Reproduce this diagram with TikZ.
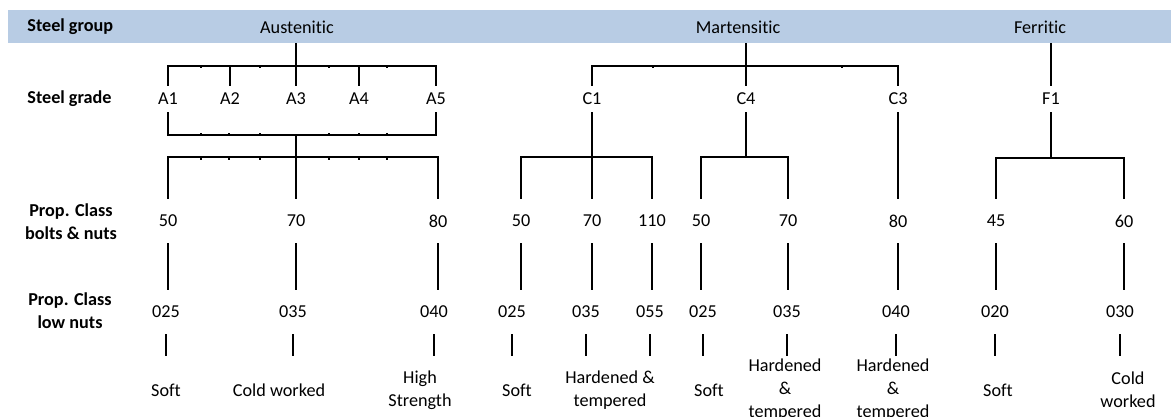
\documentclass[tikz,border=0pt]{standalone}
\usepackage{fontspec}
\setmainfont[RawFeature={-liga;-clig;-calt;-dlig}]{Carlito}
\usetikzlibrary{positioning}
\definecolor{barblue}{RGB}{184,204,228}

\begin{document}
\begin{tikzpicture}[x=0.5pt,y=-0.5pt,
	every node/.style={font=\fontsize{9.1}{11.5}\selectfont,inner sep=0pt,align=center},
	rowname/.style={font=\fontsize{9.1}{11.5}\selectfont\bfseries},
	head/.style={minimum height=16pt},
	grade/.style={minimum height=13pt},
	cls/.style={minimum height=22pt},
	kind/.style={minimum height=34pt},
	conn/.style={line width=0.7pt}]

	\useasboundingbox[fill=white] (0,0) rectangle (1171,417);
	\fill[barblue] (8,10) rectangle (1171,43);

	% row names
	\node[rowname,anchor=west] (rGroup) at (27,27) {Steel group};
	\node[rowname,anchor=west] (rGrade) at (27,99) {Steel grade};
	\node[rowname] (rBolts) at (71,222) {Prop. Class\\bolts \& nuts};
	\node[rowname] (rLow) at (70,311) {Prop. Class\\low nuts};

	% steel groups
	\node[head] (aus) at (297,27) {Austenit\kern0pt ic};
	\node[head] (mar) at (738,27) {Martensit\kern0pt ic};
	\node[head] (fer) at (1040,27) {Ferrit\kern0pt ic};

	% steel grades
	\node[grade] (A1) at (168,99) {A1};
	\node[grade] (A2) at (230,99) {A2};
	\node[grade] (A3) at (296,99) {A3};
	\node[grade] (A4) at (359,99) {A4};
	\node[grade] (A5) at (436,99) {A5};
	\node[grade] (C1) at (592,99) {C1};
	\node[grade] (C4) at (746,99) {C4};
	\node[grade] (C3) at (898,99) {C3};
	\node[grade] (F1) at (1051,99) {F1};

	% bolts & nuts
	\node[cls] (a50) at (168,221) {50};
	\node[cls] (a70) at (296,221) {70};
	\node[cls] (a80) at (438,221) {80};
	\node[cls] (m50) at (521,221) {50};
	\node[cls] (m70) at (592,221) {70};
	\node[cls] (m110) at (652,221) {110};
	\node[cls] (m50b) at (701,221) {50};
	\node[cls] (m70b) at (788,221) {70};
	\node[cls] (m80) at (898,221) {80};
	\node[cls] (f45) at (996,221) {45};
	\node[cls] (f60) at (1124,221) {60};

	% low nuts
	\node[cls] (a025) at (166,312) {025};
	\node[cls] (a035) at (293,312) {035};
	\node[cls] (a040) at (434,312) {040};
	\node[cls] (m025) at (512,312) {025};
	\node[cls] (m035) at (586,312) {035};
	\node[cls] (m055) at (650,312) {055};
	\node[cls] (m025b) at (703,312) {025};
	\node[cls] (m035b) at (787,312) {035};
	\node[cls] (m040) at (896,312) {040};
	\node[cls] (f020) at (995,312) {020};
	\node[cls] (f030) at (1120,312) {030};

	% condition
	\node[kind] (aSoft) at (166,390) {Soft};
	\node[kind] (aCold) at (279,390) {Cold worked};
	\node[kind] (aHigh) at (420,390) {High\\Strength};
	\node[kind] (mSoft) at (517,390) {Soft};
	\node[kind] (mHard) at (610,390) {Hardened \&\\tempered};
	\node[kind] (mSoftb) at (709,390) {Soft};
	\node[kind] (mHardb) at (785,390) {Hardened\\\&\\tempered};
	\node[kind] (mHardc) at (893,390) {Hardened\\\&\\tempered};
	\node[kind] (fSoft) at (998,390) {Soft};
	\node[kind] (fCold) at (1128,390) {Cold\\worked};

	\coordinate (aTop) at (296,66);
	\coordinate (aMid) at (296,135);
	\coordinate (aLow) at (296,157);
	\coordinate (mTop) at (746,66);
	\coordinate (c1Low) at (592,157);
	\coordinate (c4Low) at (746,157);
	\coordinate (fLow) at (1051,158);

	% austenitic
	\draw[conn] (A3 |- aus.south) -- (A3.north);
	\draw[conn] (A1.north) |- (aTop) -| (A5.north);
	\draw[conn] (A2.north) -- (A2 |- aTop);
	\draw[conn] (A4.north) -- (A4 |- aTop);
	\draw[conn] (A1.south) |- (aMid) -| (A5.south);
	\draw[conn] (aMid) -- (aLow);
	\draw[conn] (a50.north) |- (aLow) -| (a80.north);
	\draw[conn] (aLow) -- (a70.north);
	\foreach \x in {201,260,329,387}
		\draw[conn] (\x,66) -- (\x,68.5);
	\foreach \x in {201,229,260,329,359,387} {
		\draw[conn] (\x,135) -- (\x,132.5);
		\draw[conn] (\x,157) -- (\x,159.5);
	}

	% martensitic
	\draw[conn] (C4 |- mar.south) -- (C4.north);
	\draw[conn] (C1.north) |- (mTop) -| (C3.north);
	\foreach \x in {653,842}
		\draw[conn] (\x,66) -- (\x,68.5);
	\draw[conn] (C1.south) -- (m70.north);
	\draw[conn] (m50.north) |- (c1Low) -| (m110.north);
	\draw[conn] (C4.south) -- (c4Low);
	\draw[conn] (m50b.north) |- (c4Low) -| (m70b.north);
	\draw[conn] (C3.south) -- (m80.north);

	% ferritic
	\draw[conn] (F1 |- fer.south) -- (F1.north);
	\draw[conn] (F1.south) -- (fLow);
	\draw[conn] (f45.north) |- (fLow) -| (f60.north);

	\foreach \v/\l in {a50/a025,a70/a035,a80/a040,m50/m025,m70/m035,m110/m055,m50b/m025b,m70b/m035b,m80/m040,f45/f020,f60/f030}
		\draw[conn] (\v.south) -- (\v.south |- \l.north);
	\foreach \l/\k in {a025/aSoft,a035/aCold,a040/aHigh,m025/mSoft,m035/mHard,m055/mHard,m025b/mSoftb,m035b/mHardb,m040/mHardc,f020/fSoft,f030/fCold}
		\draw[conn] (\l.south) -- (\l.south |- \k.north);

\end{tikzpicture}
\end{document}
